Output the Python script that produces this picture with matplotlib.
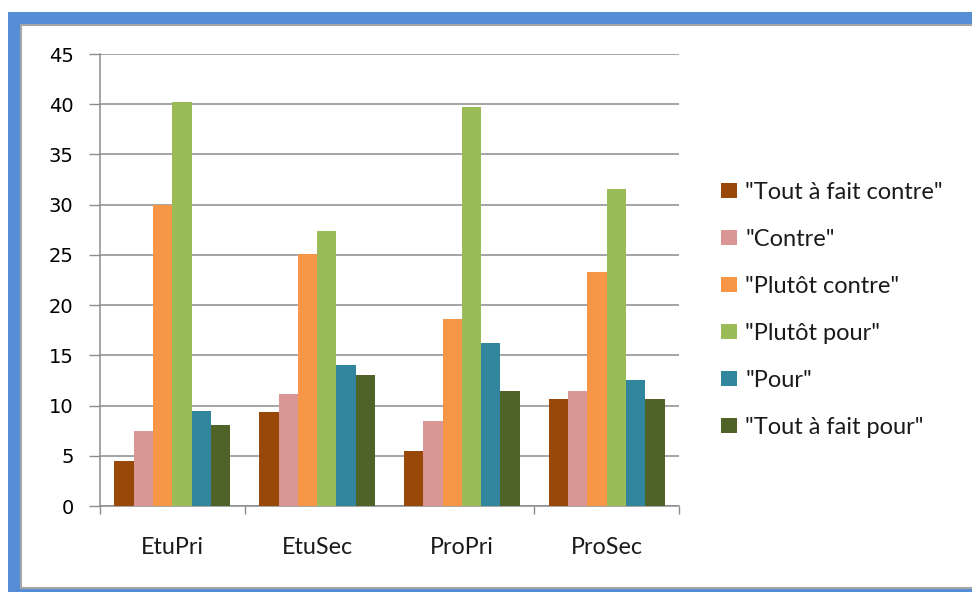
import matplotlib
matplotlib.use("Agg")
import matplotlib.pyplot as plt
from matplotlib.patches import Rectangle
from matplotlib import font_manager
import numpy as np

# --- data ---
categories = ["EtuPri", "EtuSec", "ProPri", "ProSec"]
series_names = ['"Tout à fait contre"', '"Contre"', '"Plutôt contre"',
                '"Plutôt pour"', '"Pour"', '"Tout à fait pour"']
tout_a_fait_contre = [4.5, 9.4, 5.5, 10.7]
contre = [7.5, 11.2, 8.5, 11.4]
plutot_contre = [30.0, 25.1, 18.6, 23.3]
plutot_pour = [40.2, 27.4, 39.7, 31.6]
pour = [9.5, 14.0, 16.2, 12.5]
tout_a_fait_pour = [8.1, 13.0, 11.4, 10.7]
y_ticks = [0, 5, 10, 15, 20, 25, 30, 35, 40, 45]

series = [tout_a_fait_contre, contre, plutot_contre,
          plutot_pour, pour, tout_a_fait_pour]
colors = ["#984807", "#D99694", "#F79646", "#9BBB59", "#31859C", "#4F6228"]

available = {f.name for f in font_manager.fontManager.ttflist}
def pick(*names):
    for n in names:
        if n in available:
            return n
    return "DejaVu Sans"

label_font = pick("Lato", "Open Sans", "Noto Sans", "DejaVu Sans")
num_font = pick("DejaVu Sans")

W, H = 972, 592
fig = plt.figure(figsize=(W / 100, H / 100), dpi=100)
fig.patch.set_facecolor("white")

def fx(px):
    return px / W

def fy(py):
    return 1 - py / H

# outer blue frame and inner white panel
fig.patches.append(Rectangle((fx(8), 0), 1 - fx(8), fy(12), transform=fig.transFigure,
                             facecolor="#558ED5", edgecolor="none", zorder=0))
fig.patches.append(Rectangle((fx(21), fy(588)), 1.0, fy(25) - fy(588), transform=fig.transFigure,
                             facecolor="white", edgecolor="#A6A6A6", linewidth=1.5, zorder=1))

ax = fig.add_axes([fx(100), fy(506), fx(679) - fx(100), fy(54) - fy(506)])
ax.set_facecolor("none")
ax.set_zorder(2)

x = np.arange(len(categories))
n = len(series)
width = 0.8 / n
for i, (vals, c, name) in enumerate(zip(series, colors, series_names)):
    ax.bar(x + (i - (n - 1) / 2) * width, vals, width, color=c, label=name,
           edgecolor="none", zorder=3)

ax.set_xlim(-0.5, len(categories) - 0.5)
ax.set_ylim(0, 45)
ax.set_yticks(y_ticks)
ax.set_yticklabels([str(v) for v in y_ticks], fontsize=14, family=num_font, color="black")
ax.yaxis.grid(True, color="#8C8C8C", linewidth=1.1, zorder=0)
ax.set_axisbelow(True)

ax.set_xticks(x)
ax.set_xticklabels(categories, fontsize=16.8, family=label_font, color="#1a1a1a")
ax.tick_params(axis="x", which="major", length=0, pad=22)
ax.set_xticks([-0.5, 0.5, 2.5, 3.5], minor=True)
ax.tick_params(axis="x", which="minor", length=6, width=1, color="#8C8C8C", direction="out")
ax.tick_params(axis="y", length=8, width=1, color="#8C8C8C", direction="out", pad=11)

for s in ["top", "right"]:
    ax.spines[s].set_visible(False)
for s in ["left", "bottom"]:
    ax.spines[s].set_color("#8C8C8C")
    ax.spines[s].set_linewidth(1.1)

leg = ax.legend(loc="upper left", bbox_to_anchor=(fx(721), fy(182)),
                bbox_transform=fig.transFigure, frameon=False,
                prop={"family": label_font, "size": 17},
                handlelength=0.68, handleheight=0.6, handletextpad=0.34,
                labelspacing=1.10, borderaxespad=0, borderpad=0)
for t in leg.get_texts():
    t.set_color("#1a1a1a")

fig.savefig("out.png", dpi=100)
